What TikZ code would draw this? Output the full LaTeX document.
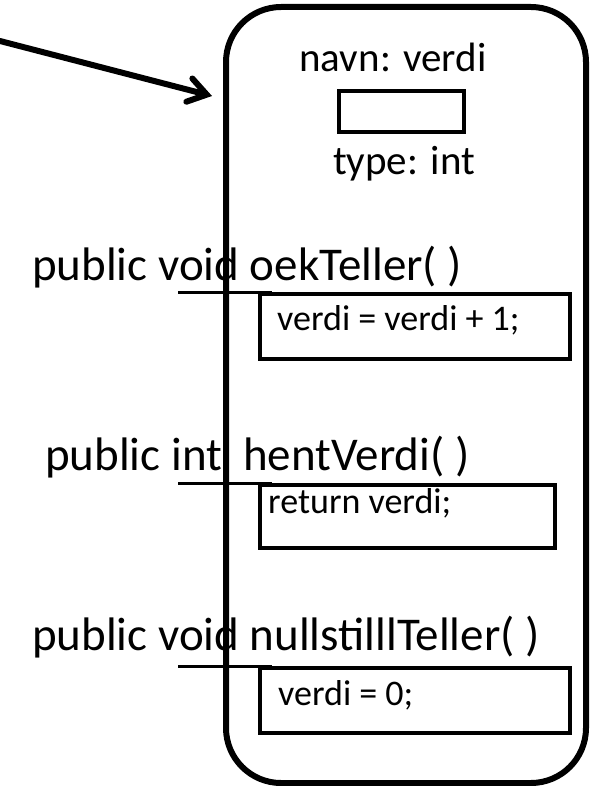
\documentclass[tikz,border=0pt]{standalone}
\usepackage{fontspec}
\setmainfont{Carlito}
\usetikzlibrary{arrows.meta}
\tikzset{
  big/.style={font=\fontsize{47}{50}\selectfont, inner sep=0pt, anchor=base west},
  mid/.style={font=\fontsize{41}{44}\selectfont, inner sep=0pt, anchor=base},
  code/.style={font=\fontsize{36}{40}\selectfont, inner sep=0pt, anchor=base west},
  codebox/.style={draw, line width=4pt, inner sep=0pt, anchor=north west},
  stub/.style={line width=3pt},
  objline/.style={line width=6pt, rounded corners=55pt},
  ptr/.style={line width=6pt, line cap=round, -{Straight Barb[length=18pt,width=24pt,line cap=round]}}
}
\begin{document}
\begin{tikzpicture}[x=1pt,y=-1pt]
\useasboundingbox (0,0) rectangle (590,786);
% texts
\node[mid] (navn) at (393,72) {navn: verdi};
\node[codebox, minimum width=125pt, minimum height=41pt] (val) at (337,89) {};
\node[mid] (type) at (404,175) {type: int};

\node[big] (m1) at (32,280) {public void oekTeller( )};
\node[codebox, minimum width=310pt, minimum height=65pt] (b1) at (258,292) {};
\node[code] (t1) at (277,330) {verdi = verdi + 1;};

\node[big] (m2) at (45,470) {public int\ \ hentVerdi( )};
\node[codebox, minimum width=295pt, minimum height=63pt] (b2) at (258,483) {};
\node[code] (t2) at (268,513) {return verdi;};

\node[big] (m3) at (32,650) {public void nullstilllTeller( )};
\node[codebox, minimum width=310pt, minimum height=65pt] (b3) at (258,666) {};
\node[code] (t3) at (278,705) {verdi = 0;};

% stubs
\coordinate (s1a) at (178,292); \coordinate (s1b) at (272,292);
\coordinate (s2a) at (178,483); \coordinate (s2b) at (272,483);
\coordinate (s3a) at (178,666); \coordinate (s3b) at (272,666);
\draw[stub] (s1a) -- (s1b);
\draw[stub] (s2a) -- (s2b);
\draw[stub] (s3a) -- (s3b);

% object outline
\draw[objline] (226,7) rectangle (586,783);

% pointer
\coordinate (src) at (0,41);
\coordinate (tip) at (212,96);
\draw[ptr] (src) -- (tip);
\end{tikzpicture}
\end{document}
